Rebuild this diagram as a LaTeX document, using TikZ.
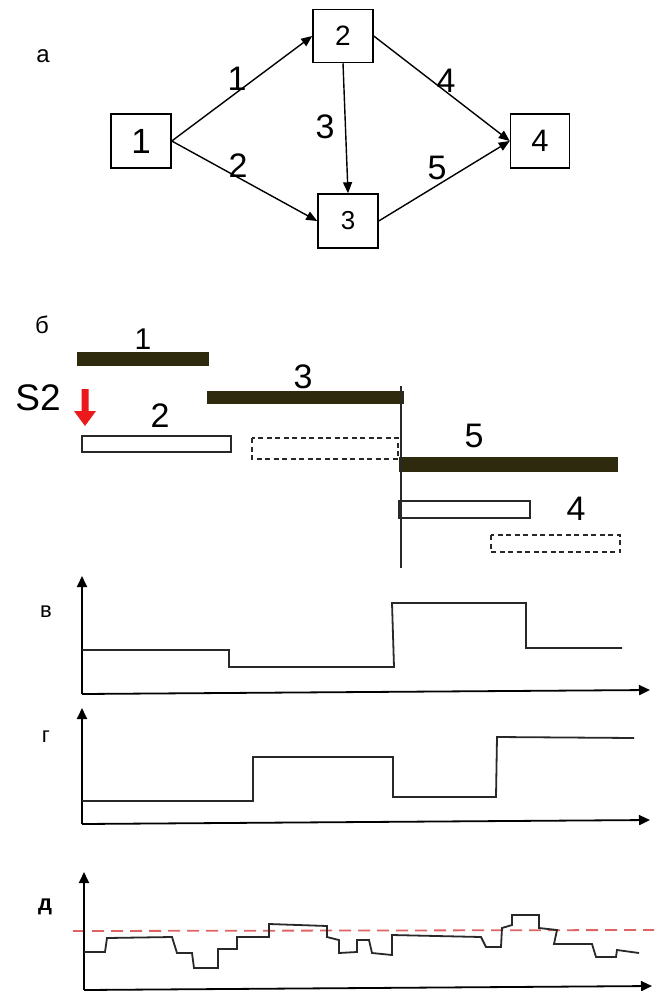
\documentclass[tikz,border=0pt]{standalone}
\usepackage{fontspec}
\setmainfont{Liberation Sans}
\usetikzlibrary{arrows.meta}
\definecolor{barfill}{RGB}{45,42,14}
\definecolor{inkgray}{RGB}{40,40,40}
\definecolor{limitred}{RGB}{222,100,100}
\definecolor{signalred}{RGB}{235,25,25}
\tikzset{
  fs/.style={font=\fontsize{#1}{#1}\selectfont},
  event/.style={draw, line width=1.5pt, fill=white, inner sep=0pt,
                minimum width=60pt, minimum height=54pt, fs=#1},
  work/.style={-{Triangle[length=11pt,width=9pt]}, line width=1.4pt},
  worklabel/.style={inner sep=0pt, fs=34},
  panel/.style={inner sep=0pt, fs=22},
  critbar/.style={fill=barfill, draw=barfill, line width=0.6pt},
  planbar/.style={draw=inkgray, fill=white, line width=1.5pt},
  slackbar/.style={draw=inkgray, dashed, dash pattern=on 5pt off 3.5pt, line width=1.3pt},
  axis/.style={-{Triangle[length=11pt,width=10pt]}, line width=1.8pt, draw=black},
  curve/.style={line width=1.8pt, draw=inkgray, line join=miter},
}
\begin{document}
\begin{tikzpicture}[x=1pt,y=-1pt]
\useasboundingbox (0,0) rectangle (654,991);

% --- network graph ---
\node[panel, fs=24] (la) at (43,56) {а};
\node[event=35, minimum width=60pt, minimum height=54pt] (e1) at (141,141) {1};
\node[event=28, minimum width=60pt, minimum height=53pt] (e2) at (343,36) {2};
\node[event=26, minimum width=60pt, minimum height=54pt] (e3) at (348,221) {3};
\node[event=31, minimum width=59pt, minimum height=54pt] (e4) at (540,141) {4};

\draw[work] (e1.east) -- (e2.west);
\draw[work] (e1.east) -- (e3.west);
\draw[work] (e2.south) -- (e3.north);
\draw[work] (e2.east) -- (e4.west);
\draw[work] (e3.east) -- (e4.west);

\node[worklabel] (w1) at (237,79) {1};
\node[worklabel] (w2) at (238,166) {2};
\node[worklabel] (w3) at (325,127) {3};
\node[worklabel] (w4) at (446,81) {4};
\node[worklabel] (w5) at (437,168) {5};

% --- schedule ---
\node[panel, fs=24] (lb) at (42,325) {б};
\node[inner sep=0pt, fs=37] (s2) at (38,398) {S2};
\fill[signalred] (81.5,389) -- (88.5,389) -- (88.5,411) -- (96,411)
  -- (85,426) -- (74,411) -- (81.5,411) -- cycle;

\path[critbar] (77,352) rectangle (208,365);
\path[critbar] (207,391) rectangle (403,403);
\path[critbar] (399,457) rectangle (617,471);
\path[planbar] (82,436) rectangle (231,452);
\path[planbar] (399,501) rectangle (530,518);
\path[slackbar] (252,438) rectangle (398,459);
\path[slackbar] (491,535) rectangle (620,552);
\draw[line width=1.4pt, draw=inkgray] (401,386) -- (401,568);

\node[worklabel, fs=30] (g1) at (143,339) {1};
\node[worklabel] (g2) at (160,416) {2};
\node[worklabel] (g3) at (303,377) {3};
\node[worklabel] (g5) at (474,436) {5};
\node[worklabel] (g4) at (576,509) {4};

% --- resource profile в ---
\node[panel] (lv) at (46,612) {в};
\draw[axis] (82,694) -- (82,576);
\draw[axis] (82,694) -- (650,690);
\draw[curve] (82,650) -- (229,650) -- (229,667) -- (394,667) -- (392,603)
  -- (526,603) -- (526,648) -- (622,648);

% --- resource profile г ---
\node[panel] (lg) at (46,737) {г};
\draw[axis] (82,824) -- (82,708);
\draw[axis] (82,824) -- (650,820);
\draw[curve] (82,801) -- (253,801) -- (253,757) -- (393,757) -- (393,797)
  -- (496,797) -- (497,737) -- (634,738);

% --- resource profile д ---
\node[panel, font=\fontsize{22}{22}\selectfont\bfseries] (ld) at (45,907) {д};
\draw[limitred, line width=1.8pt, dash pattern=on 12pt off 7pt] (73,931) -- (654,930);
\draw[axis] (84,990) -- (84,872);
\draw[axis] (84,990) -- (652,986);
\draw[curve] (84,952) -- (105,952) -- (107,938) -- (172,937) -- (177,953)
  -- (192,953) -- (194,968) -- (218,968) -- (218,949) -- (237,949)
  -- (237,937) -- (269,937) -- (269,924) -- (327,926) -- (327,937)
  -- (339,940) -- (339,953) -- (357,952) -- (357,940) -- (369,940)
  -- (372,953) -- (392,955) -- (392,935) -- (481,937) -- (486,947)
  -- (501,947) -- (502,928) -- (512,925) -- (512,915) -- (539,915)
  -- (539,928) -- (557,930) -- (554,944) -- (592,944) -- (596,957)
  -- (616,957) -- (617,950) -- (639,953);
\end{tikzpicture}
\end{document}
